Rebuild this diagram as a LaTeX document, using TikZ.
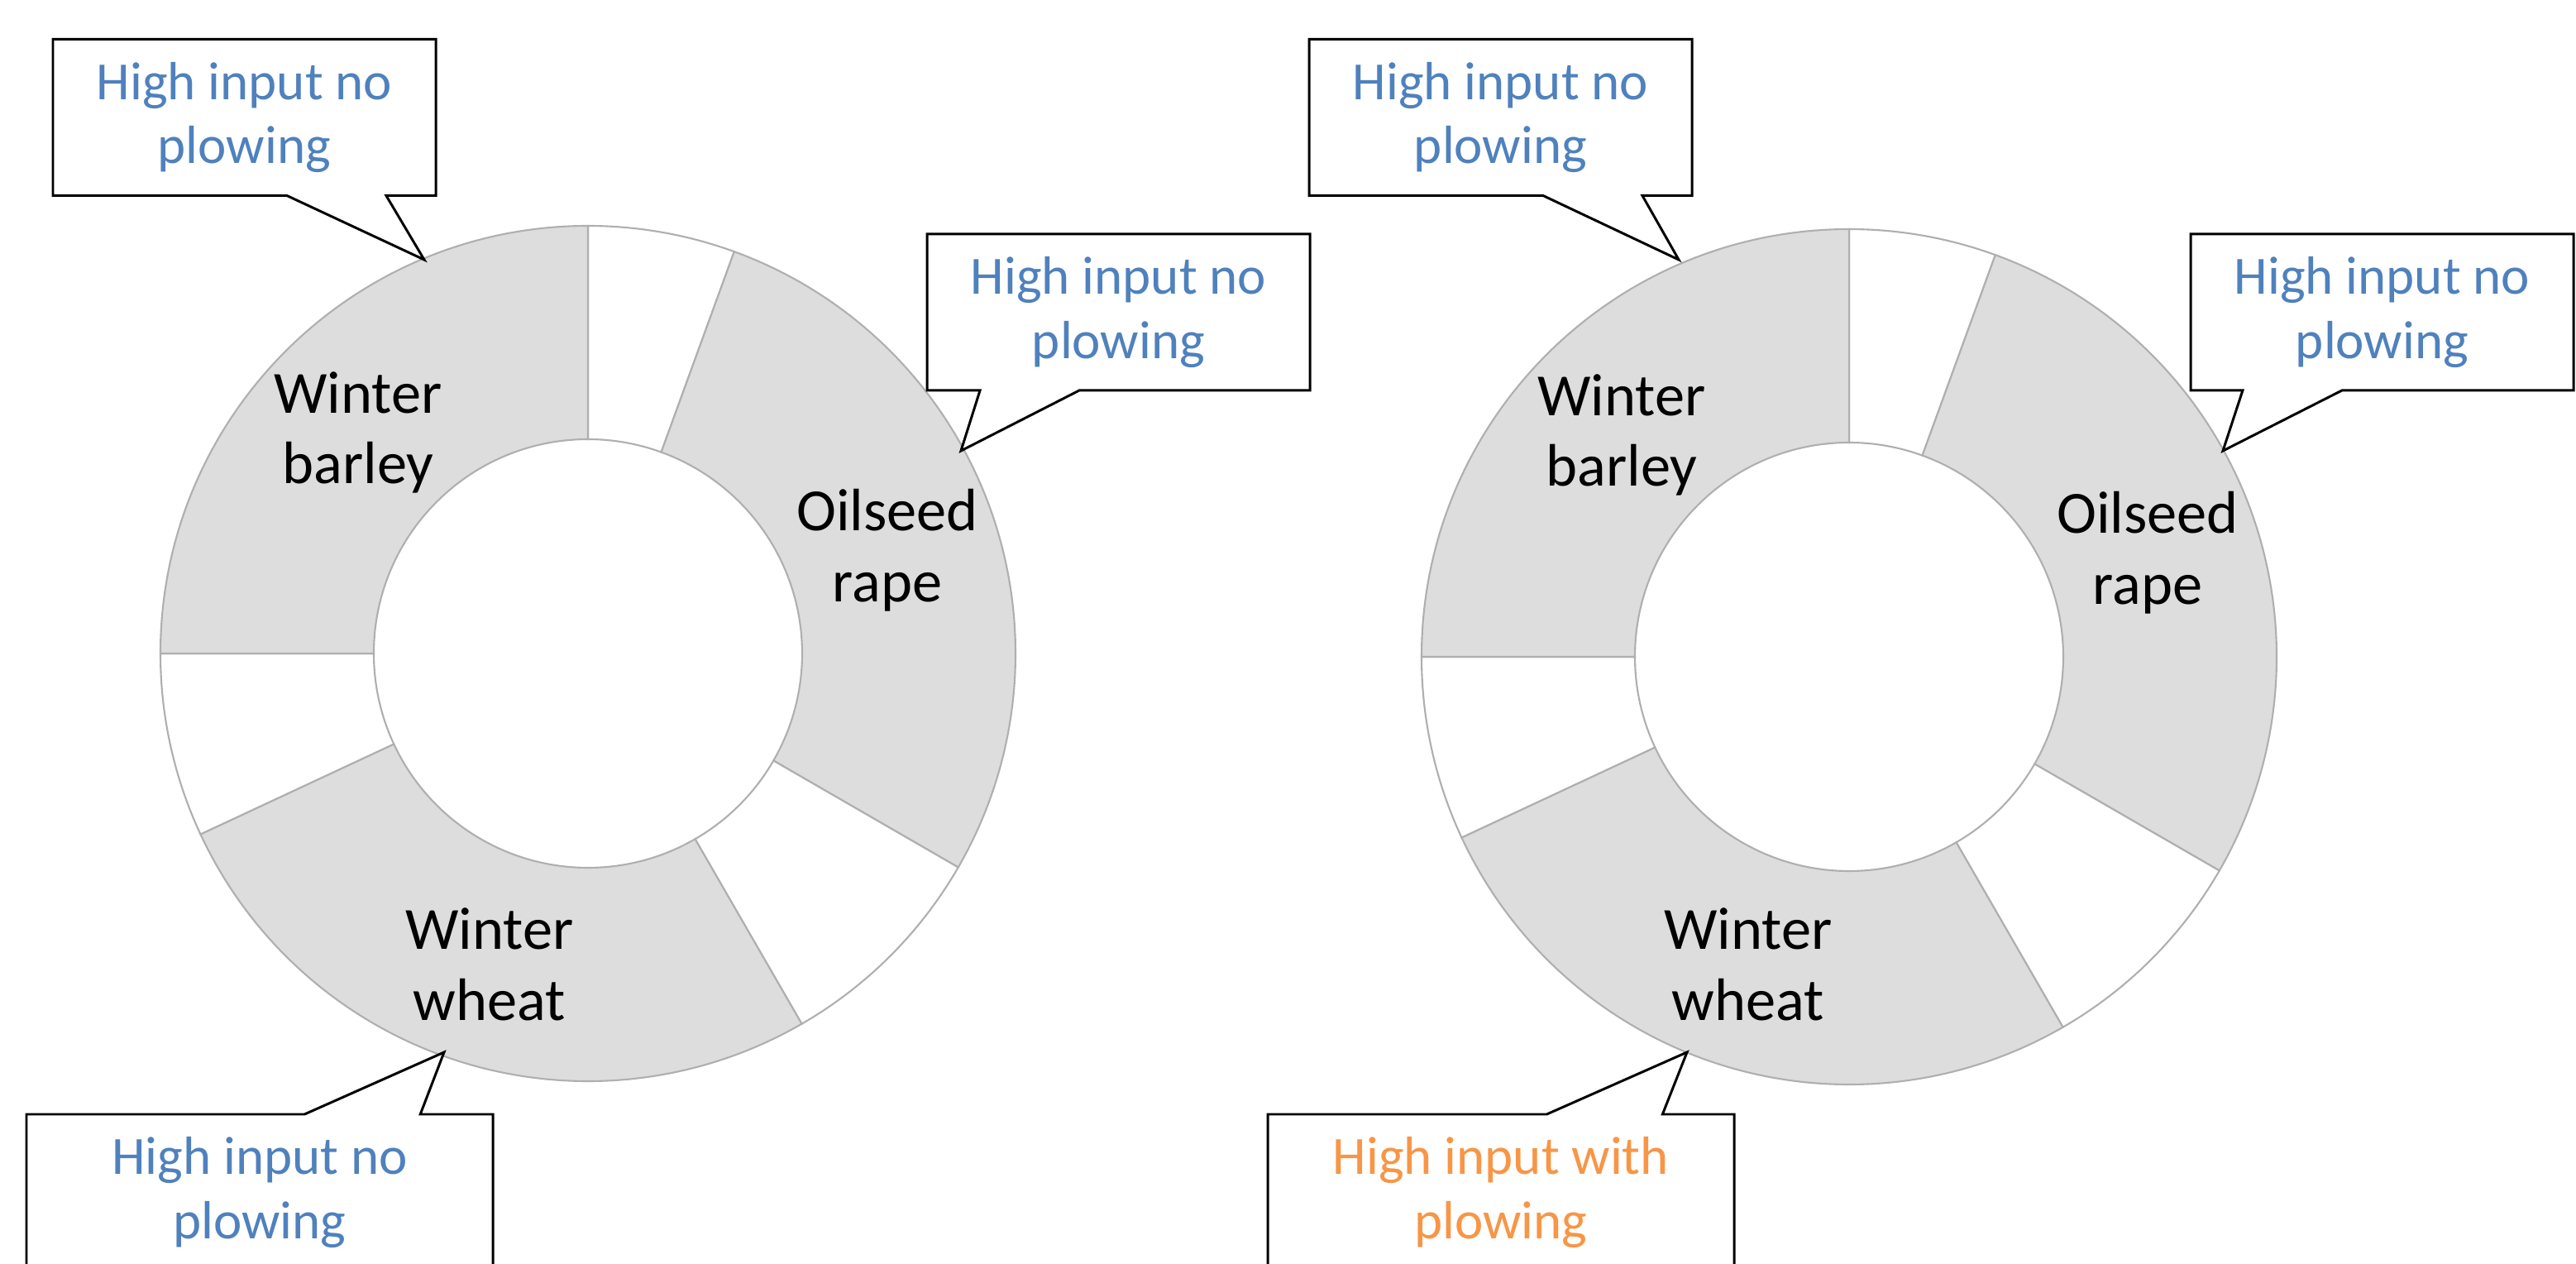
\documentclass[tikz,border=0pt]{standalone}
\usepackage{fontspec}
\setmainfont{Carlito}
\usetikzlibrary{shapes.callouts}
\definecolor{ringgray}{RGB}{221,221,221}
\definecolor{ringline}{RGB}{175,175,175}
\definecolor{noteblue}{RGB}{79,129,189}
\definecolor{noteorange}{RGB}{247,150,70}

\begin{document}
\begin{tikzpicture}[
  seg/.style={draw=ringline,line width=0.6pt},  cropname/.style={font=\fontsize{20.6}{24.4}\selectfont,align=center},  note/.style={rectangle callout,draw,fill=white,line width=0.85pt,inner sep=0pt,align=center,font=\fontsize{18.5}{22}\selectfont,minimum width=4.63cm,minimum height=1.89cm,callout pointer width=1.2cm},  widenote/.style={note,minimum width=5.64cm,callout pointer width=1.4cm}
]
  \useasboundingbox (0,0) rectangle (31.15,-15.28);
  \clip (0,0) rectangle (31.15,-15.28);
  % left ring
  \begin{scope}[shift={(7.11,-7.90)}]
    \draw[seg,fill=white] (70:5.17) arc[start angle=70,end angle=90,radius=5.17] -- (90:2.59) arc[start angle=90,end angle=70,radius=2.59] -- cycle;
    \draw[seg,fill=ringgray] (-30:5.17) arc[start angle=-30,end angle=70,radius=5.17] -- (70:2.59) arc[start angle=70,end angle=-30,radius=2.59] -- cycle;
    \draw[seg,fill=white] (-60:5.17) arc[start angle=-60,end angle=-30,radius=5.17] -- (-30:2.59) arc[start angle=-30,end angle=-60,radius=2.59] -- cycle;
    \draw[seg,fill=ringgray] (-155:5.17) arc[start angle=-155,end angle=-60,radius=5.17] -- (-60:2.59) arc[start angle=-60,end angle=-155,radius=2.59] -- cycle;
    \draw[seg,fill=white] (-180:5.17) arc[start angle=-180,end angle=-155,radius=5.17] -- (-155:2.59) arc[start angle=-155,end angle=-180,radius=2.59] -- cycle;
    \draw[seg,fill=ringgray] (90:5.17) arc[start angle=90,end angle=180,radius=5.17] -- (180:2.59) arc[start angle=180,end angle=90,radius=2.59] -- cycle;
    \node[cropname] (lbarley) at (-2.78,2.67) {Winter\\barley};
    \node[cropname] (lrape) at (3.62,1.25) {Oilseed\\rape};
    \node[cropname] (lwheat) at (-1.19,-3.76) {Winter\\wheat};
  \end{scope}
  % right ring
  \begin{scope}[shift={(22.36,-7.94)}]
    \draw[seg,fill=white] (70:5.17) arc[start angle=70,end angle=90,radius=5.17] -- (90:2.59) arc[start angle=90,end angle=70,radius=2.59] -- cycle;
    \draw[seg,fill=ringgray] (-30:5.17) arc[start angle=-30,end angle=70,radius=5.17] -- (70:2.59) arc[start angle=70,end angle=-30,radius=2.59] -- cycle;
    \draw[seg,fill=white] (-60:5.17) arc[start angle=-60,end angle=-30,radius=5.17] -- (-30:2.59) arc[start angle=-30,end angle=-60,radius=2.59] -- cycle;
    \draw[seg,fill=ringgray] (-155:5.17) arc[start angle=-155,end angle=-60,radius=5.17] -- (-60:2.59) arc[start angle=-60,end angle=-155,radius=2.59] -- cycle;
    \draw[seg,fill=white] (-180:5.17) arc[start angle=-180,end angle=-155,radius=5.17] -- (-155:2.59) arc[start angle=-155,end angle=-180,radius=2.59] -- cycle;
    \draw[seg,fill=ringgray] (90:5.17) arc[start angle=90,end angle=180,radius=5.17] -- (180:2.59) arc[start angle=180,end angle=90,radius=2.59] -- cycle;
    \node[cropname] (rbarley) at (-2.75,2.68) {Winter\\barley};
    \node[cropname] (rrape) at (3.61,1.26) {Oilseed\\rape};
    \node[cropname] (rwheat) at (-1.22,-3.72) {Winter\\wheat};
  \end{scope}
  % callouts
  \coordinate (ltiptop) at (5.13,-3.14);
  \coordinate (ltipright) at (11.62,-5.45);
  \coordinate (ltipbottom) at (5.37,-12.72);
  \coordinate (rtiptop) at (20.30,-3.14);
  \coordinate (rtipright) at (26.88,-5.45);
  \coordinate (rtipbottom) at (20.40,-12.72);
  \node[note,text=noteblue,callout absolute pointer={(ltiptop)}] (lnotetop) at (2.955,-1.42) {High input no\\plowing};
  \node[note,text=noteblue,callout absolute pointer={(ltipright)}] (lnoteright) at (13.525,-3.775) {High input no\\plowing};
  \node[widenote,text=noteblue,callout absolute pointer={(ltipbottom)}] (lnotebottom) at (3.14,-14.415) {High input no\\plowing};
  \node[note,text=noteblue,callout absolute pointer={(rtiptop)}] (rnotetop) at (18.145,-1.42) {High input no\\plowing};
  \node[note,text=noteblue,callout absolute pointer={(rtipright)}] (rnoteright) at (28.805,-3.775) {High input no\\plowing};
  \node[widenote,text=noteorange,callout absolute pointer={(rtipbottom)}] (rnotebottom) at (18.15,-14.415) {High input with\\plowing};
\end{tikzpicture}
\end{document}
